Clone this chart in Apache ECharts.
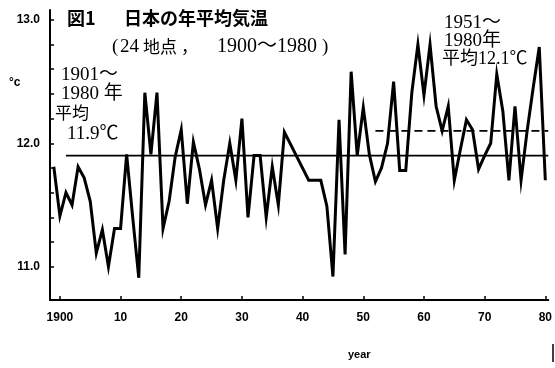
<!DOCTYPE html>
<html>
<head>
<meta charset="utf-8">
<script src="https://cdn.jsdelivr.net/npm/echarts@6/dist/echarts.min.js"></script>
<style>
html,body{margin:0;padding:0;background:#fff;}
#chart{width:555px;height:368px;}
</style>
</head>
<body>
<div id="chart"></div>
<script>
// Years and annual mean temperature (°C)
const years = [1899,1900,1901,1902,1903,1904,1905,1906,1907,1908,1909,
  1910,1911,1912,1913,1914,1915,1916,1917,1918,1919,
  1920,1921,1922,1923,1924,1925,1926,1927,1928,1929,
  1930,1931,1932,1933,1934,1935,1936,1937,1938,1939,
  1940,1941,1942,1943,1944,1945,1946,1947,1948,1949,
  1950,1951,1952,1953,1954,1955,1956,1957,1958,1959,
  1960,1961,1962,1963,1964,1965,1966,1967,1968,1969,
  1970,1971,1972,1973,1974,1975,1976,1977,1978,1979,1980];
const temps = [11.81,11.41,11.60,11.50,11.81,11.72,11.53,11.11,11.30,11.00,11.31,
  11.31,11.91,11.40,10.91,12.41,11.91,12.41,11.31,11.53,11.89,
  12.11,11.51,12.01,11.79,11.50,11.70,11.31,11.70,12.00,11.70,
  12.20,11.40,11.90,11.90,11.40,11.81,11.50,12.09,null,null,
  null,11.70,11.70,11.70,11.49,10.92,12.19,11.10,12.58,11.90,
  12.29,11.91,11.69,11.80,12.00,12.50,11.78,11.78,12.41,12.80,
  12.39,12.80,12.30,12.10,12.30,11.70,11.95,12.19,12.11,11.79,
  11.90,12.00,12.56,12.26,11.70,12.30,11.70,12.10,12.45,12.78,11.70];

// Reference means
const meanLong = 11.9;      // 1901-1980
const meanLongFrom = 1901;
const meanRecent = 12.1;    // 1951-1980
const meanRecentFrom = 1952;

// Axis ticks
const xTickYears = [1900,1910,1920,1930,1940,1950,1960,1970,1980];
const yLabelValues = [11.0,12.0,13.0];
const yTickValues = [11.0,11.2,11.4,11.6,11.8,12.0,12.2,12.4,12.6,12.8,13.0];

const X_MIN = 1898.37, X_MAX = 1980.49;
const Y_MIN = 10.73, Y_MAX = 13.08;

const chart = echarts.init(document.getElementById('chart'), null, {renderer:'canvas'});
const serifJP = '"Liberation Serif","Noto Sans CJK JP",serif';
const sansJP = '"Noto Sans CJK JP",sans-serif';

const option = {
  animation:false,
  backgroundColor:'#fff',
  grid:{left:50,right:0,top:10,bottom:68},
  xAxis:{
    type:'value', min:X_MIN, max:X_MAX,
    axisLine:{show:true,lineStyle:{color:'#000',width:2}},
    splitLine:{show:false},
    axisTick:{show:true,inside:true,length:4,customValues:xTickYears,lineStyle:{color:'#000',width:1.5}},
    axisLabel:{
      customValues:xTickYears, margin:12,
      color:'#000', fontFamily:'"Liberation Sans",sans-serif', fontWeight:'bold', fontSize:12,
      formatter:function(v){ v=Math.round(v); return v===1900 ? '1900' : String(v%100); }
    }
  },
  yAxis:{
    type:'value', min:Y_MIN, max:Y_MAX,
    axisLine:{show:true,lineStyle:{color:'#000',width:2}},
    splitLine:{show:false},
    axisTick:{show:true,inside:true,length:4,customValues:yTickValues,lineStyle:{color:'#000',width:1.5}},
    axisLabel:{
      customValues:yLabelValues, margin:10,
      color:'#000', fontFamily:'"Liberation Sans",sans-serif', fontWeight:'bold', fontSize:12,
      formatter:function(v){ return v.toFixed(1); }
    }
  },
  series:[
    {
      type:'line', name:'temp',
      data:years.map((y,i)=>[y,temps[i]]),
      connectNulls:true, showSymbol:false, symbol:'none',
      lineStyle:{color:'#000',width:3,join:'miter'},
      z:3
    },
    {
      type:'line', name:'mean1901',
      data:[[meanLongFrom,meanLong],[X_MAX,meanLong]],
      showSymbol:false, symbol:'none',
      lineStyle:{color:'#000',width:1.8}, z:2
    },
    {
      type:'line', name:'mean1951',
      data:[[meanRecentFrom,meanRecent],[X_MAX,meanRecent]],
      showSymbol:false, symbol:'none',
      lineStyle:{color:'#000',width:1.8,type:[8,5]}, z:2
    }
  ],
  graphic:[
    {type:'text',left:67,top:9,style:{text:'図1',font:'bold 18px '+sansJP,fill:'#000'}},
    {type:'text',left:124,top:9,style:{text:'日本の年平均気温',font:'bold 18px '+sansJP,fill:'#000'}},
    {type:'text',left:112,top:38,style:{text:'(',font:'19px '+serifJP,fill:'#000'}},
    {type:'text',left:120,top:38,style:{text:'24',font:'19px '+serifJP,fill:'#000'}},
    {type:'text',left:143,top:38,style:{text:'地点',font:'17px '+sansJP,fill:'#000'}},
    {type:'text',left:181,top:38,style:{text:'，',font:'17px '+sansJP,fill:'#000'}},
    {type:'text',left:217,top:37,style:{text:'1900〜1980',font:'20px '+serifJP,fill:'#000'}},
    {type:'text',left:322,top:38,style:{text:')',font:'19px '+serifJP,fill:'#000'}},
    {type:'text',left:61,top:66,style:{text:'1901〜',font:'19px '+serifJP,fill:'#000'}},
    {type:'text',left:61,top:85,style:{text:'1980 年',font:'19px '+serifJP,fill:'#000'}},
    {type:'text',left:55,top:104,style:{text:'平均',font:'17px '+sansJP,fill:'#000'}},
    {type:'text',left:67,top:125,style:{text:'11.9℃',font:'19px '+serifJP,fill:'#000'}},
    {type:'text',left:444,top:14,style:{text:'1951〜',font:'19px '+serifJP,fill:'#000'}},
    {type:'text',left:444,top:32,style:{text:'1980年',font:'19px '+serifJP,fill:'#000'}},
    {type:'text',left:442,top:50,style:{text:'平均12.1℃',font:'18px '+serifJP,fill:'#000'}},
    {type:'text',left:9,top:77,style:{text:'°c',font:'bold 12px "Liberation Sans",sans-serif',fill:'#000'}},
    {type:'text',left:348,top:349,style:{text:'year',font:'bold 11px "Liberation Sans",sans-serif',fill:'#000'}},
    {type:'line',shape:{x1:553,y1:344,x2:553,y2:362},style:{stroke:'#000',lineWidth:1.5}}
  ]
};
chart.setOption(option);
</script>
</body>
</html>
